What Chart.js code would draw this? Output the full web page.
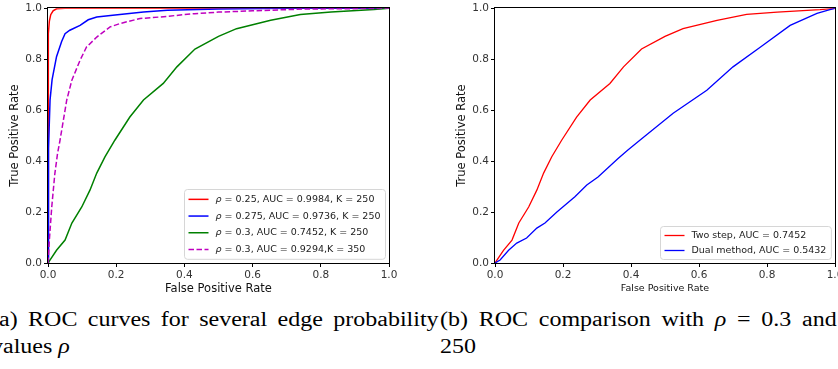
<!DOCTYPE html>
<html>
<head>
<meta charset="utf-8">
<script src="https://cdn.jsdelivr.net/npm/chart.js@4.4.1/dist/chart.umd.min.js"></script>
<style>
  html, body { margin:0; padding:0; background:#fff; width:838px; height:369px; overflow:hidden; position:relative; }
  canvas { position:absolute; top:0; }
  #rocLeft { left:0; }
  #rocRight { left:430px; }
  .cap { position:absolute; font-family:"Liberation Serif", serif; font-size:20px; color:#000; line-height:22px;
         transform:scaleX(1.2); transform-origin:0 0; white-space:nowrap; }
  .just { text-align:justify; text-align-last:justify; width:373px; white-space:normal; }
</style>
</head>
<body>
<canvas id="rocLeft" width="400" height="300"></canvas>
<canvas id="rocRight" width="420" height="300"></canvas>

<div class="cap just" style="left:-9px; top:308px;">(a) ROC curves for several edge probability</div>
<div class="cap" style="left:-9px; top:335px;">values <i>ρ</i></div>
<div class="cap just" style="left:440px; top:308px;">(b) ROC comparison with <i>ρ</i> = 0.3 and <i>K</i> =</div>
<div class="cap" style="left:440px; top:335px;">250</div>

<script>
// axis ticks
const tickValues = [0, 0.2, 0.4, 0.6, 0.8, 1.0]

// (a) curves
const fprRho025 = [0, 0, 0.002, 0.004, 0.008, 0.015, 0.025, 0.05, 1]
const tprRho025 = [0, 0.5, 0.9, 0.95, 0.975, 0.99, 0.998, 1, 1]

const fprRho0275 = [0, 0.001, 0.002, 0.006, 0.012, 0.025, 0.04, 0.05, 0.064, 0.094, 0.118, 0.143, 0.19, 0.28, 0.35, 0.5, 0.7, 1]
const tprRho0275 = [0, 0.3, 0.45, 0.64, 0.72, 0.81, 0.87, 0.9, 0.914, 0.933, 0.955, 0.966, 0.973, 0.985, 0.992, 0.997, 1, 1]

const fprRho03K350 = [0, 0.004, 0.011, 0.02, 0.028, 0.035, 0.04, 0.055, 0.07, 0.094, 0.113, 0.143, 0.182, 0.211, 0.27, 0.33, 0.43, 0.5, 0.6, 0.75, 1]
const tprRho03K350 = [0, 0.09, 0.22, 0.35, 0.43, 0.48, 0.52, 0.64, 0.718, 0.796, 0.848, 0.887, 0.927, 0.94, 0.96, 0.966, 0.979, 0.985, 0.99, 0.997, 1]

// rho = 0.3, K = 250 (also the "two step" curve in (b))
const fprTwoStep = [0, 0.025, 0.05, 0.07, 0.099, 0.123, 0.143, 0.167, 0.196, 0.24, 0.28, 0.338, 0.378, 0.431, 0.5, 0.553, 0.653, 0.74, 0.83, 0.956, 1]
const tprTwoStep = [0, 0.05, 0.09, 0.157, 0.22, 0.286, 0.353, 0.417, 0.482, 0.573, 0.64, 0.705, 0.77, 0.84, 0.89, 0.92, 0.953, 0.976, 0.985, 0.995, 1]

// (b) dual method
const fprDual = [0, 0.015, 0.04, 0.064, 0.093, 0.123, 0.147, 0.182, 0.235, 0.27, 0.303, 0.362, 0.39, 0.426, 0.524, 0.623, 0.7, 0.78, 0.868, 0.947, 0.985, 1]
const tprDual = [0, 0.012, 0.05, 0.078, 0.098, 0.137, 0.157, 0.2, 0.26, 0.306, 0.338, 0.41, 0.443, 0.482, 0.588, 0.678, 0.77, 0.847, 0.933, 0.98, 0.995, 1]

const labelsA = ['ρ = 0.25, AUC = 0.9984, K = 250', 'ρ = 0.275, AUC = 0.9736, K = 250', 'ρ = 0.3, AUC = 0.7452, K = 250', 'ρ = 0.3, AUC = 0.9294,K = 350']
const labelsB = ['Two step, AUC = 0.7452', 'Dual method, AUC = 0.5432']

function pts(xs, ys){
  return xs.map(function(x, i){ return { x: x, y: ys[i] } })
}

function line(label, xs, ys, color, width, order, dash){
  return {
    label: label, data: pts(xs, ys), borderColor: color, backgroundColor: color,
    borderWidth: width, borderDash: dash || [], pointRadius: 0, tension: 0, fill: false, order: order
  }
}

// draws text, oblique for the greek rho (like mathtext)
function drawLabel(ctx, text, x, y, size, measureOnly){
  var parts = text.split(/(ρ)/)
  var w = 0
  parts.forEach(function(p){
    if (!p) return
    ctx.font = (p === 'ρ' ? 'italic ' : '') + size + 'px "DejaVu Sans"'
    if (!measureOnly) ctx.fillText(p, x + w, y)
    w += ctx.measureText(p).width
  })
  return w
}

var frame = {
  id: 'frame',
  afterDatasetsDraw: function(chart){
    var a = chart.chartArea, ctx = chart.ctx
    ctx.save()
    ctx.strokeStyle = '#000'
    ctx.lineWidth = 1
    ctx.strokeRect(Math.round(a.left) - 0.5, Math.round(a.top) - 0.5, Math.round(a.right - a.left) + 1, Math.round(a.bottom - a.top) + 1)
    ctx.restore()
  }
}

var boxLegend = {
  id: 'boxLegend',
  afterDraw: function(chart, args, opts){
    var a = chart.chartArea, ctx = chart.ctx, sets = chart.data.datasets
    ctx.save()
    ctx.textBaseline = 'middle'
    var tw = 0
    sets.forEach(function(ds){ tw = Math.max(tw, drawLabel(ctx, ds.label, 0, 0, opts.fontSize, true)) })
    var w = 31 + tw + 5, h = sets.length * opts.rowH + 3
    var x0 = Math.round(a.right - opts.margin - w) + 0.5, y0 = Math.round(a.bottom - opts.margin - h) + 0.5
    ctx.beginPath()
    ctx.roundRect(x0, y0, w, h, 3)
    ctx.fillStyle = 'rgba(255,255,255,0.8)'
    ctx.fill()
    ctx.strokeStyle = '#d6d6d6'
    ctx.lineWidth = 1
    ctx.stroke()
    sets.forEach(function(ds, i){
      var cy = y0 + 1.5 + opts.rowH * (i + 0.5)
      ctx.beginPath()
      ctx.setLineDash(ds.borderDash || [])
      ctx.strokeStyle = ds.borderColor
      ctx.lineWidth = ds.borderWidth
      ctx.moveTo(x0 + 4, cy)
      ctx.lineTo(x0 + 24, cy)
      ctx.stroke()
      ctx.setLineDash([])
      ctx.fillStyle = '#222'
      drawLabel(ctx, ds.label, x0 + 31, cy, opts.fontSize, false)
    })
    ctx.restore()
  }
}

function axis(title, titleSize, titlePad, fit, isX){
  return {
    type: 'linear', min: 0, max: 1,
    afterBuildTicks: function(s){ s.ticks = tickValues.map(function(v){ return { value: v } }) },
    afterFit: function(s){ if (isX) s.height = fit; else s.width = fit },
    grid: { drawOnChartArea: false, drawTicks: true, tickLength: 4, tickColor: '#000', tickWidth: 1 },
    border: { display: false },
    ticks: {
      padding: 2, color: '#333', font: { family: 'DejaVu Sans', size: 10.5 },
      maxRotation: 0, autoSkip: false,
      callback: function(v){ return v.toFixed(1) }
    },
    title: { display: true, text: title, color: '#111', font: { family: 'DejaVu Sans', size: titleSize }, padding: titlePad }
  }
}

function options(cfg){
  return {
    responsive: false, animation: false,
    layout: { padding: { top: 8, right: cfg.padRight, bottom: 0, left: 0 } },
    plugins: {
      legend: { display: false }, tooltip: { enabled: false },
      boxLegend: { fontSize: 9.5, rowH: cfg.rowH, margin: 4 }
    },
    scales: {
      x: axis('False Positive Rate', cfg.xTitleSize, { top: 0, bottom: cfg.xTitlePad }, 37, true),
      y: axis('True Positive Rate', 11.5, { top: cfg.yTitlePad, bottom: 0 }, cfg.yWidth, false)
    }
  }
}

new Chart(document.getElementById('rocLeft'), {
  type: 'line',
  data: {
    datasets: [
      line(labelsA[0], fprRho025, tprRho025, '#ff0000', 1.5, 3),
      line(labelsA[1], fprRho0275, tprRho0275, '#0000ff', 1.5, 2),
      line(labelsA[2], fprTwoStep, tprTwoStep, '#008000', 1.5, 1),
      line(labelsA[3], fprRho03K350, tprRho03K350, '#bf00bf', 1.5, 0, [5.5, 2.5])
    ]
  },
  options: options({ padRight: 11, rowH: 16.7, xTitleSize: 11.5, xTitlePad: 4.1, yTitlePad: 8, yWidth: 48 }),
  plugins: [frame, boxLegend]
})

new Chart(document.getElementById('rocRight'), {
  type: 'line',
  data: {
    datasets: [
      line(labelsB[0], fprTwoStep, tprTwoStep, '#ff0000', 1.3, 1),
      line(labelsB[1], fprDual, tprDual, '#0000ff', 1.3, 0)
    ]
  },
  options: options({ padRight: 15, rowH: 15, xTitleSize: 9.5, xTitlePad: 5.3, yTitlePad: 25, yWidth: 65 }),
  plugins: [frame, boxLegend]
})
</script>
</body>
</html>
